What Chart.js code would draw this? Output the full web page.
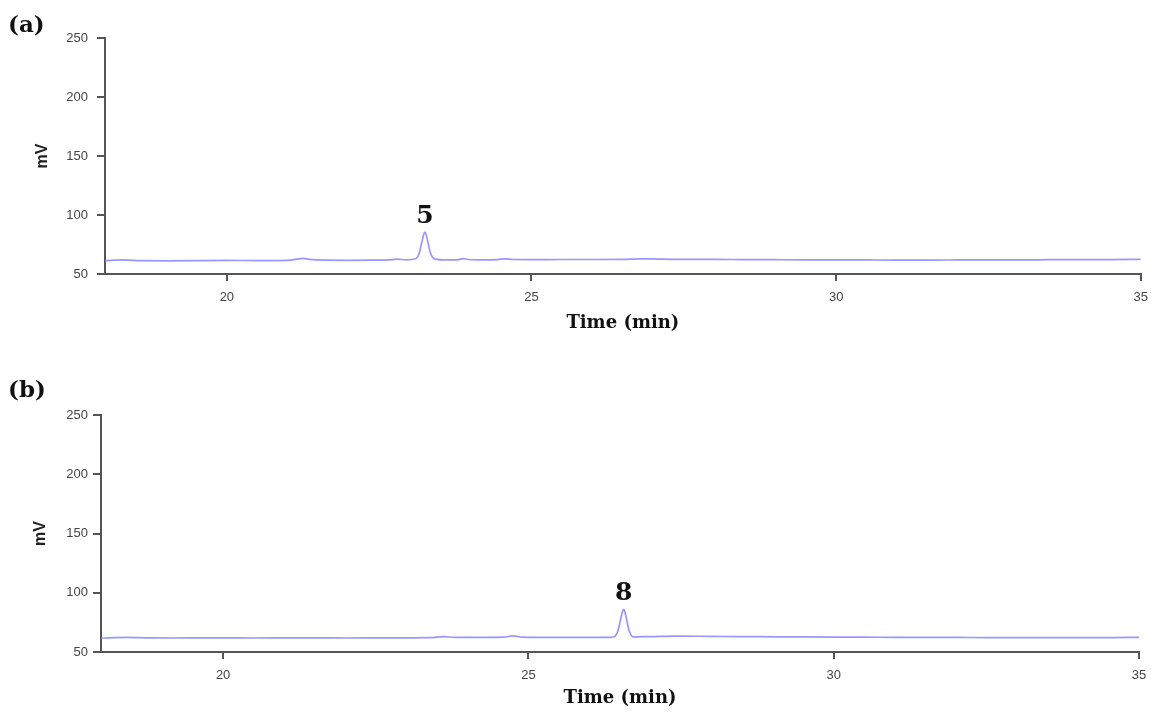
<!DOCTYPE html>
<html>
<head>
<meta charset="utf-8">
<script src="https://cdn.jsdelivr.net/npm/chart.js@4.4.1/dist/chart.umd.min.js"></script>
<style>
  html, body { margin: 0; padding: 0; background: #fff; }
  #page { position: relative; width: 1157px; height: 713px; overflow: hidden; }
  .panel { position: absolute; left: 0; width: 1157px; }
</style>
</head>
<body>
<div id="page">
  <div class="panel" id="wrapA" style="top:0;height:340px"><canvas id="chartA"></canvas></div>
  <div class="panel" id="wrapB" style="top:340px;height:373px"><canvas id="chartB"></canvas></div>
</div>
<script>
// хроматограммы: время удерживания (мин) и сигнал детектора (мВ)
const timeA = [18.0, 18.3, 18.6, 19.0, 19.5, 20.0, 20.5, 21.0, 21.15, 21.25, 21.35, 21.6, 22.0, 22.4, 22.65, 22.8,
  22.95, 23.10, 23.16, 23.20, 23.23, 23.25, 23.27, 23.30, 23.34, 23.42, 23.6, 23.8, 23.88, 23.96, 24.2, 24.45, 24.55, 24.7,
  25.0, 25.5, 26.0, 26.5, 26.8, 27.1, 27.5, 28.0, 28.5, 29.0, 29.5, 30.0, 30.5, 31.0, 31.5, 32.0, 32.5, 33.0,
  33.5, 34.0, 34.5, 35.0];
const mvA = [61.4, 61.9, 61.3, 61.2, 61.3, 61.5, 61.4, 61.6, 62.6, 63.2, 62.4, 61.7, 61.6, 61.7, 61.9, 62.6,
  62.0, 62.9, 68.0, 77.0, 83.5, 85.5, 83.5, 77.0, 68.0, 62.6, 61.9, 62.2, 63.1, 62.3, 62.0, 62.2, 62.9, 62.3,
  62.2, 62.3, 62.3, 62.4, 62.9, 62.6, 62.4, 62.4, 62.2, 62.1, 62.0, 62.0, 61.9, 61.8, 61.8, 61.9, 62.0, 62.0,
  62.1, 62.2, 62.2, 62.4];

const timeB = [18.0, 18.4, 18.8, 19.2, 19.6, 20.0, 20.5, 21.0, 21.5, 22.0, 22.5, 23.0, 23.4, 23.6, 23.8,
  24.2, 24.6, 24.74, 24.9, 25.3, 25.7, 26.1, 26.35, 26.41, 26.47, 26.51, 26.54, 26.56, 26.58, 26.61, 26.65, 26.72, 27.0,
  27.4, 27.8, 28.2, 28.6, 29.0, 29.5, 30.0, 30.5, 31.0, 31.5, 32.0, 32.5, 33.0, 33.5, 34.0, 34.5, 35.0];
const mvB = [61.8, 62.3, 61.9, 61.8, 61.9, 62.0, 61.8, 61.9, 62.0, 61.8, 61.9, 62.0, 62.1, 63.0, 62.3,
  62.4, 62.6, 63.6, 62.6, 62.3, 62.4, 62.3, 62.4, 63.0, 68.5, 77.5, 84.0, 86.0, 84.0, 77.0, 68.0, 62.8, 63.0,
  63.4, 63.3, 63.1, 63.0, 62.8, 62.7, 62.6, 62.5, 62.4, 62.3, 62.3, 62.2, 62.2, 62.1, 62.2, 62.2, 62.3];

const xTicks = [20, 25, 30, 35];
const yTicks = [50, 100, 150, 200, 250];
const panelLabels = ['(a)', '(b)'];
const peakLabels = ['5', '8'];
const xTitle = 'Time (min)';
const yTitle = 'mV';

const AXIS = '#555';
const TRACE = 'rgba(125,125,255,0.8)';

// подписи панели и пика рисуем поверх графика
const labelsPlugin = {
  id: 'labels',
  afterDraw(chart) {
    const o = chart.options.plugins.labels;
    const ctx = chart.ctx;
    const data = chart.data.datasets[0].data;
    let top = data[0];
    data.forEach(p => { if (p.y > top.y) top = p; });
    const px = chart.scales.x.getPixelForValue(top.x);
    const py = chart.scales.y.getPixelForValue(top.y);
    ctx.save();
    ctx.fillStyle = '#111';
    ctx.textBaseline = 'alphabetic';
    ctx.font = 'bold 23px "DejaVu Serif"';
    ctx.textAlign = 'left';
    ctx.fillText(o.panel, 8, o.panelY);
    ctx.font = 'bold 25px "DejaVu Serif"';
    ctx.textAlign = 'center';
    ctx.fillText(o.peak, px, py - 9);
    ctx.restore();
  }
};

function makeChart(id, times, values, lay) {
  const points = times.map((t, i) => ({ x: t, y: values[i] }));
  return new Chart(document.getElementById(id), {
    type: 'line',
    data: {
      datasets: [{
        data: points,
        borderColor: TRACE,
        borderWidth: 1.7,
        pointRadius: 0,
        cubicInterpolationMode: 'monotone',
        fill: false,
      }],
    },
    options: {
      responsive: true,
      maintainAspectRatio: false,
      animation: false,
      devicePixelRatio: 1,
      layout: { padding: { top: lay.top, right: lay.right, left: 0, bottom: 0 } },
      scales: {
        x: {
          type: 'linear',
          min: 18,
          max: 35,
          afterBuildTicks: s => { s.ticks = xTicks.map(v => ({ value: v })); },
          afterFit: s => { s.height = lay.xHeight; },
          grid: { display: true, drawOnChartArea: false, drawTicks: true, tickLength: 7, color: AXIS, lineWidth: 2 },
          border: { display: true, color: AXIS, width: 2 },
          ticks: { color: '#444', padding: 9, maxRotation: 0, font: { family: 'Liberation Sans', size: 13 } },
          title: {
            display: true, text: xTitle, color: '#111',
            font: { family: 'DejaVu Serif', size: 18, weight: 'bold' },
            padding: { top: 0, bottom: lay.xTitlePad },
          },
        },
        y: {
          min: 50,
          max: 250,
          afterBuildTicks: s => { s.ticks = yTicks.map(v => ({ value: v })); },
          afterFit: s => { s.width = lay.yWidth; },
          grid: { display: true, drawOnChartArea: false, drawTicks: true, tickLength: 8, color: AXIS, lineWidth: 2 },
          border: { display: true, color: AXIS, width: 2 },
          ticks: { color: '#444', padding: lay.yTickPad, font: { family: 'Liberation Sans', size: 13 } },
          title: {
            display: true, text: yTitle, color: '#222',
            font: { family: 'Liberation Sans', size: 16, weight: 'bold' },
            padding: { top: lay.yTitlePad, bottom: 0 },
          },
        },
      },
      plugins: {
        legend: { display: false },
        tooltip: { enabled: false },
        labels: { panel: lay.panel, peak: lay.peak, panelY: lay.panelY },
      },
    },
    plugins: [labelsPlugin],
  });
}

makeChart('chartA', timeA, mvA, {
  top: 38, right: 14, xHeight: 66, yWidth: 105, xTitlePad: 6, yTickPad: 9, yTitlePad: 33,
  panel: panelLabels[0], peak: peakLabels[0], panelY: 32,
});
makeChart('chartB', timeB, mvB, {
  top: 75, right: 18, xHeight: 61, yWidth: 101, xTitlePad: 4, yTickPad: 5, yTitlePad: 31,
  panel: panelLabels[1], peak: peakLabels[1], panelY: 57,
});
</script>
</body>
</html>
